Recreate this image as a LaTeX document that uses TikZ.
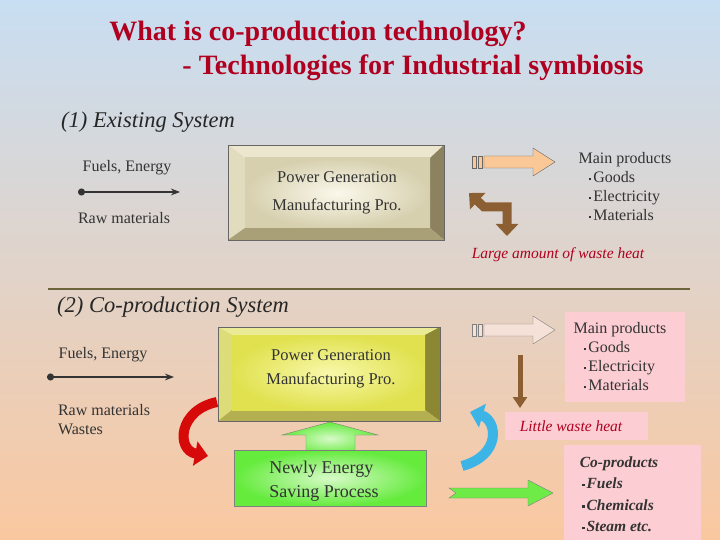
\documentclass[tikz,border=0pt]{standalone}
\usepackage{fontspec}
\setmainfont{Liberation Serif}
\usetikzlibrary{arrows.meta,shapes.arrows}
\definecolor{ttl}{HTML}{B00020}
\definecolor{txt}{HTML}{333333}
\definecolor{bgtop}{RGB}{200,222,242}
\definecolor{bgbot}{RGB}{250,200,160}
\definecolor{bAt}{RGB}{235,230,205}
\definecolor{bAl}{RGB}{225,220,190}
\definecolor{bAr}{RGB}{140,130,95}
\definecolor{bAb}{RGB}{170,160,120}
\definecolor{bAin}{RGB}{250,248,235}
\definecolor{bAout}{RGB}{215,208,175}
\definecolor{bBt}{RGB}{235,235,150}
\definecolor{bBl}{RGB}{220,220,120}
\definecolor{bBr}{RGB}{140,135,50}
\definecolor{bBb}{RGB}{180,175,80}
\definecolor{bBin}{RGB}{248,248,170}
\definecolor{bBout}{RGB}{225,225,80}
\definecolor{gin}{RGB}{215,250,200}
\definecolor{gout}{RGB}{100,235,60}
\definecolor{garr}{RGB}{110,235,70}
\definecolor{orng}{RGB}{250,200,150}
\definecolor{pale}{RGB}{245,225,215}
\definecolor{brwn}{RGB}{140,95,50}
\definecolor{divc}{RGB}{110,100,60}
\definecolor{redc}{RGB}{215,10,10}
\definecolor{bluec}{RGB}{60,180,230}
\definecolor{pinkc}{RGB}{252,205,210}
\newcommand{\sqd}{\raisebox{0.35ex}{\rule{2.2pt}{2.2pt}}\hspace{2pt}}
\tikzset{
 lbl/.style={font=\fontsize{16}{19}\selectfont, text=txt, align=left},
 plink/.style={fill=pinkc, draw=none},
 feed/.style={{Circle[length=7pt]}-{Stealth[length=9pt]}, line width=1.6pt, draw=txt},
}
\begin{document}
\begin{tikzpicture}[x=1pt,y=-1pt]
\shade[top color=bgtop, bottom color=bgbot] (0,0) rectangle (720,540);
\useasboundingbox (0,0) rectangle (720,540);
% titles
\node[font=\bfseries\fontsize{28}{32}\selectfont, text=ttl] (t1) at (318,34) {What is co-production technology?};
\node[font=\bfseries\fontsize{28}{32}\selectfont, text=ttl] (t2) at (413,68) {- Technologies for Industrial symbiosis};
% section 1
\node[font=\itshape\fontsize{22.5}{26}\selectfont, text=black!85] (s1) at (148,122) {(1) Existing System};
\node[lbl] (fe1) at (127,168) {Fuels, Energy};
\node[lbl] (rm1) at (124,218) {Raw materials};
\coordinate (a1) at (78,192); \coordinate (b1) at (180,192);
\draw[feed] (a1) -- (b1);
% box 1 bevel
\fill[bAt] (228,145) -- (444,145) -- (430,158) -- (245,158) -- cycle;
\fill[bAl] (228,145) -- (245,158) -- (245,228) -- (228,240) -- cycle;
\fill[bAr] (444,145) -- (444,240) -- (430,228) -- (430,158) -- cycle;
\fill[bAb] (228,240) -- (245,228) -- (430,228) -- (444,240) -- cycle;
\shade[inner color=bAin, outer color=bAout] (245,158) rectangle (430,228);
\draw[black!60] (228,145) rectangle (444,240);
\node[lbl, align=center, font=\fontsize{16.5}{28}\selectfont] (box1) at (337,193) {Power Generation\\Manufacturing Pro.};
% orange arrow 1
\fill[orng, draw=black!60] (484,156) -- (533,156) -- (533,148) -- (555,162) -- (533,176) -- (533,168) -- (484,168) -- cycle;
\draw[black!60,fill=orng] (472,156) rectangle (476,168) (478,156) rectangle (482,168);
% brown bent arrow
\draw[brwn, line width=9pt, {Triangle[width=22pt,length=12pt]}-{Triangle[width=22pt,length=12pt]}] (469,193) -- (484,207) -- (507,207) -- (507,236);
\node[lbl, align=left] (mp1) at (629,187) {\hspace*{-8pt}Main products\\\,\sqd Goods\\\,\sqd Electricity\\\,\sqd Materials};
\node[font=\itshape\fontsize{15.5}{18}\selectfont, text=ttl] (lw) at (558,255) {Large amount of waste heat};
% divider
\coordinate (d1) at (48,289); \coordinate (d2) at (690,289);
\draw[line width=2.5pt, divc] (d1) -- (d2);
% section 2
\node[font=\itshape\fontsize{22.5}{26}\selectfont, text=black!85] (s2) at (173,307) {(2) Co-production System};
\node[lbl] (fe2) at (103,355) {Fuels, Energy};
\node[lbl] (rm2) at (104,420) {Raw materials\\Wastes};
\coordinate (a2) at (47,377); \coordinate (b2) at (174,377);
\draw[feed] (a2) -- (b2);
% box 2
\fill[bBt] (218,327) -- (440,327) -- (425,335) -- (232,335) -- cycle;
\fill[bBl] (218,327) -- (232,335) -- (232,410) -- (218,421) -- cycle;
\fill[bBr] (440,327) -- (440,421) -- (425,410) -- (425,335) -- cycle;
\fill[bBb] (218,421) -- (232,410) -- (425,410) -- (440,421) -- cycle;
\shade[inner color=bBin, outer color=bBout] (232,335) rectangle (425,410);
\draw[black!60] (218,327) rectangle (440,421);
\node[lbl, align=center, font=\fontsize{16.5}{24}\selectfont] (box2) at (331,369) {Power Generation\\Manufacturing Pro.};
% green up arrow and green box
\shade[inner color=gin, outer color=gout, draw=black!50] (306,455) -- (306,435) -- (282,435) -- (330,422) -- (378,435) -- (355,435) -- (355,455) -- cycle;
\shade[inner color=gin, outer color=gout] (234,450) rectangle (426,506);
\draw[black!50] (234,450) rectangle (426,506);
\node[lbl, align=left, font=\fontsize{18}{24}\selectfont] (nb) at (324,481) {Newly Energy\\Saving Process};
% green right arrow
\fill[garr, draw=black!50] (449,488) -- (528,488) -- (528,480) -- (553,493) -- (528,506) -- (528,498) -- (449,498) -- (456,493) -- cycle;
% red curved arrow
\draw[redc, line width=10pt, -{Triangle[width=24pt,length=13pt]}] (217,402) .. controls (178,410) and (176,450) .. (208,456);
% blue curved arrow
\draw[bluec, line width=10pt, -{Triangle[width=24pt,length=13pt]}] (462,466) .. controls (502,455) and (497,420) .. (470,412);
% section 2 right
\fill[pale, draw=black!50] (484,324) -- (533,324) -- (533,316) -- (555,330) -- (533,344) -- (533,336) -- (484,336) -- cycle;
\draw[black!50,fill=pale] (472,324) rectangle (476,336) (478,324) rectangle (482,336);
\draw[brwn, line width=5pt, -{Triangle[width=14pt,length=11pt]}] (520,355) -- (520,408);
\fill[plink] (565,312) rectangle (685,402);
\node[lbl, align=left] (mp2) at (624,357) {\hspace*{-8pt}Main products\\\,\sqd Goods\\\,\sqd Electricity\\\,\sqd Materials};
\fill[plink] (505,412) rectangle (648,440);
\node[font=\itshape\fontsize{15.5}{18}\selectfont, text=ttl] (lt) at (571,426) {Little waste heat};
\fill[plink] (564,445) rectangle (701,540);
\node[font=\bfseries\itshape\fontsize{15.5}{21.5}\selectfont, text=black!80, align=left] (cp) at (619,494) {Co-products\\\,\sqd Fuels\\\,\sqd Chemicals\\\,\sqd Steam etc.};
\end{tikzpicture}
\end{document}
